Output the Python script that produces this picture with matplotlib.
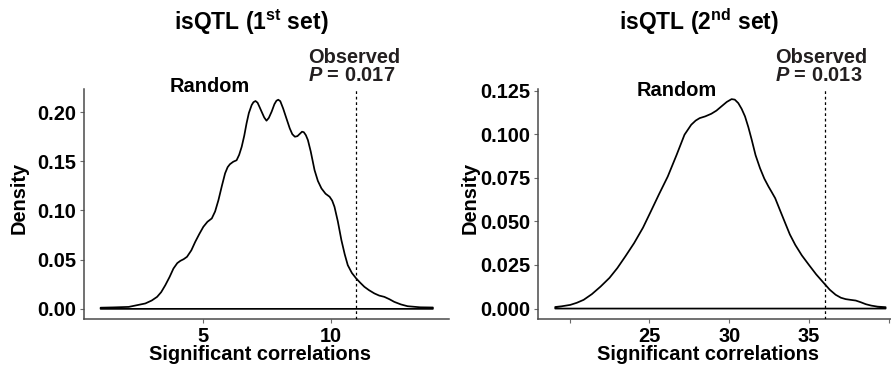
import numpy as np
import matplotlib
matplotlib.use("Agg")
import matplotlib.pyplot as plt

# ---------------- data ----------------
set1_x = [1.0, 1.5, 2.1, 2.75, 3.0, 3.21, 3.37, 3.53, 3.70, 3.85, 4.0, 4.12, 4.25,
          4.38, 4.55, 4.70, 4.86, 5.02, 5.18, 5.35, 5.48, 5.61, 5.74, 5.87, 5.97,
          6.06, 6.19, 6.32, 6.42, 6.52, 6.62, 6.71, 6.80, 6.91, 6.98, 7.06, 7.14,
          7.22, 7.30, 7.40, 7.49, 7.58, 7.69, 7.80, 7.88, 7.95, 8.03, 8.14, 8.27,
          8.40, 8.50, 8.60, 8.70, 8.80, 8.88, 8.95, 9.03, 9.11, 9.22, 9.37, 9.50,
          9.64, 9.80, 9.96, 10.06, 10.15, 10.28, 10.42, 10.55, 10.67, 10.83, 11.0,
          11.16, 11.32, 11.50, 11.71, 11.90, 12.10, 12.30, 12.49, 12.75, 13.01,
          13.5, 14.0]
set1_d = [0.0012, 0.0015, 0.0020, 0.0055, 0.0085, 0.0122, 0.0170, 0.0240, 0.0325,
          0.0410, 0.0465, 0.0488, 0.0505, 0.0529, 0.0595, 0.0680, 0.0760, 0.0834,
          0.0885, 0.0919, 0.0990, 0.1105, 0.1245, 0.1377, 0.1440, 0.1470, 0.1495,
          0.1510, 0.1565, 0.1647, 0.1760, 0.1885, 0.1990, 0.2071, 0.2100, 0.2112,
          0.2095, 0.2050, 0.2003, 0.1945, 0.1912, 0.1940, 0.2003, 0.2080, 0.2115,
          0.2125, 0.2110, 0.2037, 0.1935, 0.1834, 0.1775, 0.1749, 0.1755, 0.1780,
          0.1800, 0.1795, 0.1765, 0.1715, 0.1600, 0.1410, 0.1300, 0.1224, 0.1170,
          0.1139, 0.1100, 0.1037, 0.0890, 0.0699, 0.0555, 0.0444, 0.0365, 0.0309,
          0.0265, 0.0224, 0.0190, 0.0157, 0.0135, 0.0122, 0.0098, 0.0071, 0.0045,
          0.0027, 0.0016, 0.0014]

set2_x = [19.1, 19.5, 20.04, 20.45, 20.88, 21.4, 21.94, 22.5, 22.99, 23.5, 24.04,
          24.6, 25.09, 25.6, 26.15, 26.7, 27.2, 27.62, 27.9, 28.15, 28.5, 28.88,
          29.2, 29.51, 29.85, 30.15, 30.35, 30.57, 30.78, 30.99, 31.2, 31.41,
          31.65, 31.93, 32.2, 32.46, 32.65, 32.88, 33.2, 33.51, 33.8, 34.14, 34.55,
          34.99, 35.45, 35.93, 36.3, 36.67, 37.0, 37.3, 37.6, 37.93, 38.25, 38.56,
          38.9, 39.3, 39.8]
set2_d = [0.0009, 0.0013, 0.0021, 0.0033, 0.0050, 0.0083, 0.0126, 0.0176, 0.0232,
          0.0300, 0.0375, 0.0464, 0.0557, 0.0655, 0.0757, 0.0880, 0.0997, 0.1054,
          0.1078, 0.1092, 0.1102, 0.1117, 0.1135, 0.1159, 0.1185, 0.1201, 0.1198,
          0.1178, 0.1145, 0.1102, 0.1040, 0.0968, 0.0880, 0.0805, 0.0745, 0.0700,
          0.0670, 0.0633, 0.0560, 0.0490, 0.0425, 0.0365, 0.0305, 0.0251, 0.0196,
          0.0146, 0.0108, 0.0079, 0.0062, 0.0054, 0.0050, 0.0046, 0.0036, 0.0025,
          0.0017, 0.0011, 0.0008]

observed = [11, 36]
p_values = ["0.017", "0.013"]
titles_sup = ["st", "nd"]
titles_num = ["1", "2"]
xticks1 = [5, 10]
xtick_labels1 = ["5", "10"]
xticks2 = [20, 25, 30, 35, 40]
xtick_labels2 = ["", "25", "30", "35", ""]
yticks1 = [0.00, 0.05, 0.10, 0.15, 0.20]
ytick_labels1 = ["0.00", "0.05", "0.10", "0.15", "0.20"]
yticks2 = [0.000, 0.025, 0.050, 0.075, 0.100, 0.125]
ytick_labels2 = ["0.000", "0.025", "0.050", "0.075", "0.100", "0.125"]

# ---------------- style ----------------
plt.rcParams['font.family'] = ['Liberation Sans', 'DejaVu Sans']
plt.rcParams['font.weight'] = 'bold'
plt.rcParams['mathtext.fontset'] = 'custom'
plt.rcParams['mathtext.rm'] = 'Liberation Sans:bold'
plt.rcParams['mathtext.bf'] = 'Liberation Sans:bold'
plt.rcParams['mathtext.it'] = 'Liberation Sans:italic:bold'

W, H = 891, 374
fig = plt.figure(figsize=(W / 100, H / 100), dpi=100)


def fx(px):
    return px / W


def fy(py):
    return 1 - py / H


FS = 14.4
axis_col = '#4a4a4a'
tick_col = '#6a6a6a'
text_col = '#231f20'

panels = [
    dict(x=set1_x, d=set1_d, obs=observed[0], p=p_values[0], num=titles_num[0],
         sup=titles_sup[0], xt=xticks1, xtl=xtick_labels1, yt=yticks1, ytl=ytick_labels1,
         left=84, right=449.5, xlim=(0.35, 14.65), ylim=(-0.0105, 0.2234),
         title_x=251, rand_x=209.5, rand_y=87, obs_x=308.3, ylab_x=19.5, xlab_x=259.7),
    dict(x=set2_x, d=set2_d, obs=observed[1], p=p_values[1], num=titles_num[1],
         sup=titles_sup[1], xt=xticks2, xtl=xtick_labels2, yt=yticks2, ytl=ytick_labels2,
         left=538.3, right=902.7, xlim=(18.04, 40.87), ylim=(-0.0061, 0.1259),
         title_x=698.5, rand_x=676.7, rand_y=90.5, obs_x=775, ylab_x=470, xlab_x=708),
]

top_px, bot_px = 89, 319.2
for pnl in panels:
    ax = fig.add_axes([fx(pnl['left']), fy(bot_px),
                       fx(pnl['right'] - pnl['left']), (bot_px - top_px) / H])
    x = np.array(pnl['x'])
    d = np.array(pnl['d'])
    px_ = np.concatenate([x, [x[-1], x[0], x[0]]])
    py_ = np.concatenate([d, [0, 0, d[0]]])
    ax.fill(px_, py_, facecolor='white', edgecolor='black', lw=1.25,
            joinstyle='round', capstyle='round', zorder=2)
    ax.axvline(pnl['obs'], color='black', lw=0.9, ls=(0, (2.2, 2.2)), zorder=3)
    ax.set_xlim(*pnl['xlim'])
    ax.set_ylim(*pnl['ylim'])
    ax.set_xticks(pnl['xt'])
    ax.set_xticklabels(pnl['xtl'])
    ax.set_yticks(pnl['yt'])
    ax.set_yticklabels(pnl['ytl'])
    for s in ['top', 'right']:
        ax.spines[s].set_visible(False)
    for s in ['left', 'bottom']:
        ax.spines[s].set_color(axis_col)
        ax.spines[s].set_linewidth(1.1)
    ax.tick_params(axis='both', length=3, width=0.8, color=tick_col,
                   labelsize=FS, labelcolor='black', pad=2.5)
    for lab in ax.get_xticklabels() + ax.get_yticklabels():
        lab.set_fontweight('bold')
    ax.set_ylabel('Density', fontsize=FS, fontweight='bold')
    ax.yaxis.set_label_coords(fx(pnl['ylab_x']), fy(198), transform=fig.transFigure)
    ax.yaxis.label.set_va('center')
    ax.set_xlabel('Significant correlations', fontsize=FS, fontweight='bold')
    ax.xaxis.set_label_coords(fx(pnl['xlab_x']), fy(355), transform=fig.transFigure)
    ax.xaxis.label.set_va('center')

    fig.text(fx(pnl['title_x']), fy(22),
             'isQTL (' + pnl['num'] + r'$^{\mathbf{' + pnl['sup'] + r'}}$' + ' set)',
             ha='center', va='center', fontsize=16.5, fontweight='bold', color='black')
    fig.text(fx(pnl['rand_x']), fy(pnl['rand_y']), 'Random', ha='center', va='center',
             fontsize=FS, fontweight='bold', color='black')
    fig.text(fx(pnl['obs_x']), fy(57.3), 'Observed', ha='left', va='center',
             fontsize=FS, fontweight='bold', color=text_col)
    fig.text(fx(pnl['obs_x']), fy(75.5), r'$P$ = ' + pnl['p'], ha='left', va='center',
             fontsize=FS, fontweight='bold', color=text_col)

fig.savefig('out.png', dpi=100)
